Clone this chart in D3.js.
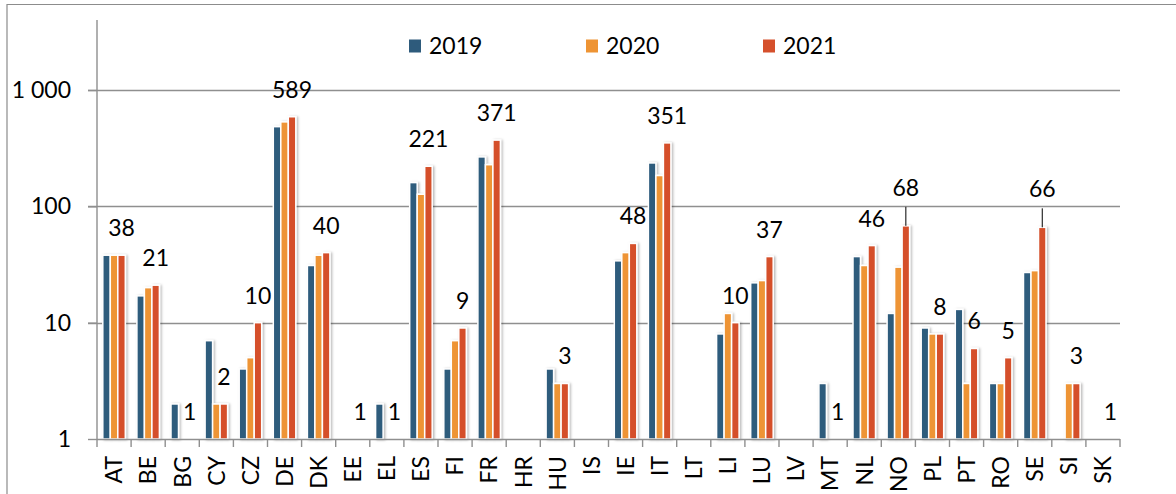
<!DOCTYPE html>
<html>
<head>
<meta charset="utf-8">
<script src="https://cdn.jsdelivr.net/npm/d3@7"></script>
<style>
  html, body { margin: 0; padding: 0; background: #fff; }
  svg { display: block; }
  text { font-family: Lato, "Open Sans", sans-serif; fill: #000; }
</style>
</head>
<body>
<svg id="chart" width="1176" height="494"></svg>
<script>
// ---- data ----
const categories = ["AT","BE","BG","CY","CZ","DE","DK","EE","EL","ES","FI","FR","HR","HU","IS","IE","IT","LT","LI","LU","LV","MT","NL","NO","PL","PT","RO","SE","SI","SK"];
const seriesNames = ["2019","2020","2021"];
const v2019 = [38,17,2,7,4,484,31,null,2,160,4,266,null,4,null,34,236,null,8,22,null,3,37,12,9,13,3,27,null,null];
const v2020 = [38,20,null,2,5,532,38,null,null,127,7,228,null,3,null,40,184,null,12,23,null,null,31,30,8,3,3,28,3,null];
const v2021 = [38,21,1,2,10,589,40,1,1,221,9,371,null,3,null,48,351,null,10,37,null,1,46,68,8,6,5,66,3,1];
const yTicks = [1, 10, 100, 1000];
const yTickLabels = ["1", "10", "100", "1 000"];
const leaderCats = ["NO", "SE"];

const colors = ["#2E5B7C", "#EE9434", "#D5502C"];
const seriesValues = [v2019, v2020, v2021];

// ---- layout ----
const svg = d3.select("#chart");
const left = 97, right = 1120, baseY = 439, topY = 90, axisTop = 20;
const fontSize = 23;

const x = d3.scaleBand().domain(categories).range([left, right]).paddingInner(0).paddingOuter(0);
const groupW = x.bandwidth() * 0.66;
const x1 = d3.scaleBand().domain(seriesNames).range([-groupW / 2, groupW / 2]).padding(0);
const y = d3.scaleLog().domain([1, 1000]).range([baseY, topY]);

// shadow filter
const defs = svg.append("defs");
const f = defs.append("filter").attr("id", "shadow").attr("x", "-50%").attr("y", "-10%").attr("width", "200%").attr("height", "120%");
f.append("feDropShadow").attr("dx", 1.5).attr("dy", 0.5).attr("stdDeviation", 1.3)
  .attr("flood-color", "#000").attr("flood-opacity", 0.28);

// chart border (top & left)
svg.append("path").attr("d", `M7,494 V4.5 H1176`).attr("fill", "none").attr("stroke", "#8c8c8c").attr("stroke-width", 1.2);

// gridlines
svg.append("g").selectAll("line").data(yTicks.filter(t => t > 1)).join("line")
  .attr("x1", left - 9).attr("x2", right)
  .attr("y1", d => Math.round(y(d)) + 0.5).attr("y2", d => Math.round(y(d)) + 0.5)
  .attr("stroke", "#8f8f8f").attr("stroke-width", 1.4);

// y axis
const yAxis = d3.axisLeft(y).tickValues(yTicks).tickSize(9).tickPadding(17)
  .tickFormat((d, i) => yTickLabels[i]);
const gy = svg.append("g").attr("transform", `translate(${left},0)`).call(yAxis);
gy.select(".domain").remove();
gy.selectAll(".tick line").attr("stroke", "#8f8f8f").attr("stroke-width", 1.4);
gy.selectAll(".tick text").style("font-size", fontSize + "px").attr("fill", "#000");
svg.append("line").attr("x1", left).attr("x2", left).attr("y1", axisTop).attr("y2", baseY)
  .attr("stroke", "#8f8f8f").attr("stroke-width", 1.4);

// bars
const barData = [];
categories.forEach((c, i) => {
  seriesNames.forEach((s, j) => {
    const v = seriesValues[j][i];
    if (v != null && v > 1) barData.push({ c, s, v, j });
  });
});
svg.append("g").attr("filter", "url(#shadow)").selectAll("rect").data(barData).join("rect")
  .attr("x", d => x(d.c) + x.bandwidth() / 2 + x1(d.s))
  .attr("width", x1.bandwidth())
  .attr("y", d => y(d.v))
  .attr("height", d => baseY - y(d.v))
  .attr("fill", d => colors[d.j])
  .attr("stroke", "#fff").attr("stroke-width", 1.5);

// x axis
const xAxis = d3.axisBottom(x).tickSize(0).tickPadding(0);
const gx = svg.append("g").attr("transform", `translate(0,${baseY})`).call(xAxis);
gx.select(".domain").remove();
gx.selectAll(".tick text")
  .style("font-size", fontSize + "px")
  .attr("fill", "#000")
  .attr("text-anchor", "end")
  .attr("transform", "translate(0,17) rotate(-90)")
  .attr("x", 0).attr("y", 0).attr("dy", "0.36em");
svg.append("line").attr("x1", left).attr("x2", right).attr("y1", baseY + 0.5).attr("y2", baseY + 0.5)
  .attr("stroke", "#8f8f8f").attr("stroke-width", 1.4);
const boundaries = categories.map(c => x(c)).concat([right]);
svg.append("g").selectAll("line").data(boundaries).join("line")
  .attr("x1", d => d).attr("x2", d => d).attr("y1", baseY).attr("y2", baseY + 8)
  .attr("stroke", "#8f8f8f").attr("stroke-width", 1.4);

// data labels for 2021
const labelData = categories.map((c, i) => ({ c, v: v2021[i] })).filter(d => d.v != null);
const lg = svg.append("g");
labelData.forEach(d => {
  const cx = x(d.c) + x.bandwidth() / 2 + x1("2021") + x1.bandwidth() / 2;
  const top = y(d.v);
  const lead = leaderCats.includes(d.c);
  const by = lead ? top - 30 : top - 19;
  lg.append("text").attr("x", cx).attr("y", by).attr("text-anchor", "middle")
    .style("font-size", fontSize + "px").text(d.v);
  if (lead) {
    lg.append("line").attr("x1", cx).attr("x2", cx).attr("y1", by + 11).attr("y2", top)
      .attr("stroke", "#000").attr("stroke-width", 1);
  }
});

// legend
const legendX0 = 409, legendStep = 177, legendY = 46;
const leg = svg.append("g").selectAll("g").data(seriesNames).join("g")
  .attr("transform", (d, i) => `translate(${legendX0 + i * legendStep},${legendY})`);
leg.append("rect").attr("x", 0).attr("y", -6.5).attr("width", 12).attr("height", 13)
  .attr("fill", (d, i) => colors[i]);
leg.append("text").attr("x", 20).attr("y", 0).attr("dy", "0.36em")
  .style("font-size", fontSize + "px").text(d => d);
</script>
</body>
</html>
